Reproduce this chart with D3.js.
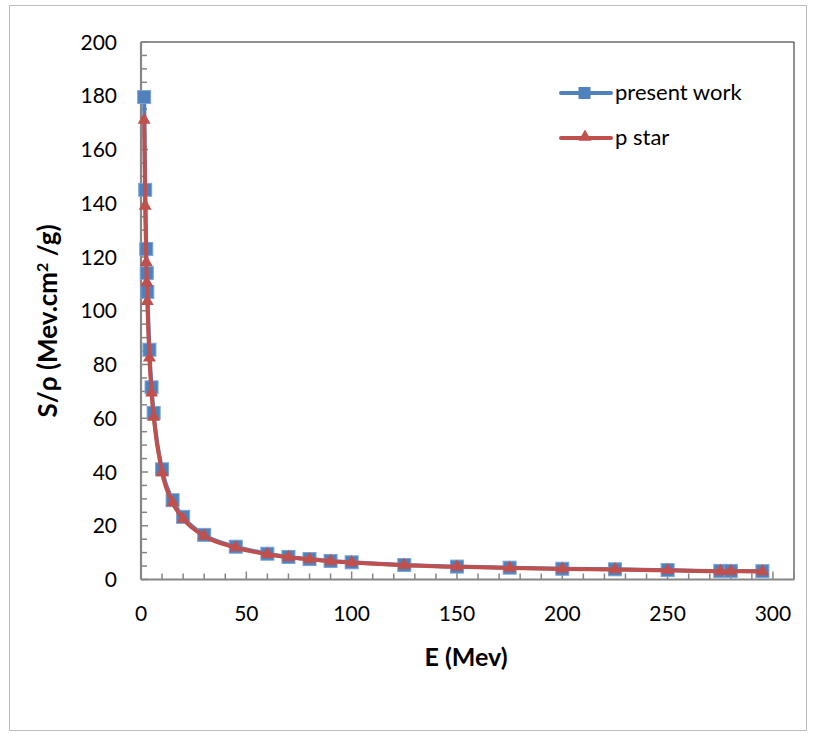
<!DOCTYPE html>
<html>
<head>
<meta charset="utf-8">
<script src="https://cdn.jsdelivr.net/npm/d3@7"></script>
<style>
  body { margin: 0; background: #fff; }
  svg { display: block; font-family: Lato, "Open Sans", sans-serif; }
</style>
</head>
<body>
<svg id="chart" width="817" height="733"></svg>
<script>
// data
let energy = [1.5, 2, 2.5, 2.75, 3, 4, 5, 6, 10, 15, 20, 30, 45, 60, 70, 80, 90, 100, 125, 150, 175, 200, 225, 250, 275, 280, 295]
let presentWork = [179.5, 145, 123, 114, 107, 85.5, 71.5, 62, 41, 29.5, 23.3, 16.6, 12.2, 9.6, 8.4, 7.6, 6.9, 6.4, 5.4, 4.8, 4.4, 4.0, 3.8, 3.5, 3.2, 3.2, 3.1]
let pStar = [171, 139, 118, 110.5, 103.5, 82.5, 69.5, 60.5, 39.8, 28.6, 22.6, 16.2, 11.9, 9.4, 8.3, 7.5, 6.8, 6.3, 5.3, 4.7, 4.3, 3.9, 3.7, 3.4, 3.1, 3.1, 3.0]
let xTicks = [0, 50, 100, 150, 200, 250, 300]
let yTicks = [0, 20, 40, 60, 80, 100, 120, 140, 160, 180, 200]
let seriesNames = ['present work', 'p star']

let svg = d3.select('#chart')
let pLeft = 141, pTop = 42, pRight = 794, pBottom = 579.5

// outer frame
svg.append('rect')
    .attr('x', 9.5).attr('y', 5.5)
    .attr('width', 797).attr('height', 725)
    .attr('fill', 'none').attr('stroke', '#bdbdbd').attr('stroke-width', 1)

let x = d3.scaleLinear().domain([0, 310]).range([pLeft, pRight])
let y = d3.scaleLinear().domain([0, 200]).range([pBottom, pTop])

// plot frame: top and right thin dark lines
svg.append('path')
    .attr('d', `M${pLeft},${pTop}H${pRight}V${pBottom}`)
    .attr('fill', 'none').attr('stroke', '#222').attr('stroke-width', 1)

// minor ticks (inside)
let xMinor = d3.range(0, 311, 10)
svg.append('g').selectAll('line')
    .data(xMinor)
    .enter().append('line')
    .attr('x1', d => x(d)).attr('x2', d => x(d))
    .attr('y1', pBottom).attr('y2', d => d % 50 === 0 ? pBottom - 8 : pBottom - 6)
    .attr('stroke', '#868686').attr('stroke-width', 1.5)

let yMinor = d3.range(0, 201, 5)
svg.append('g').selectAll('line')
    .data(yMinor)
    .enter().append('line')
    .attr('y1', d => y(d)).attr('y2', d => y(d))
    .attr('x1', pLeft).attr('x2', d => d % 20 === 0 ? pLeft + 7 : pLeft + 6)
    .attr('stroke', '#868686').attr('stroke-width', 1.5)

// axes lines
svg.append('line').attr('x1', pLeft).attr('x2', pRight).attr('y1', pBottom).attr('y2', pBottom)
    .attr('stroke', '#868686').attr('stroke-width', 2.2)
svg.append('line').attr('x1', pLeft).attr('x2', pLeft).attr('y1', pTop).attr('y2', pBottom)
    .attr('stroke', '#868686').attr('stroke-width', 2.2)

// tick labels
svg.append('g').selectAll('text')
    .data(xTicks)
    .enter().append('text')
    .attr('x', d => x(d)).attr('y', pBottom + 41)
    .attr('text-anchor', 'middle')
    .attr('font-size', 21).attr('fill', '#000')
    .text(d => d)

svg.append('g').selectAll('text')
    .data(yTicks)
    .enter().append('text')
    .attr('x', 117).attr('y', d => y(d) + 7.5)
    .attr('text-anchor', 'end')
    .attr('font-size', 21).attr('fill', '#000')
    .text(d => d)

// axis titles
svg.append('text')
    .attr('x', 466).attr('y', 666)
    .attr('text-anchor', 'middle')
    .attr('font-size', 25).attr('font-weight', 'bold')
    .text('E (Mev)')

let yTitle = svg.append('text')
    .attr('transform', 'translate(57,321) rotate(-90)')
    .attr('text-anchor', 'middle')
    .attr('font-size', 26).attr('font-weight', 'bold')
yTitle.append('tspan').text('S/ρ (Mev.cm')
yTitle.append('tspan').attr('font-size', 16).attr('dy', -9).text('2')
yTitle.append('tspan').attr('dy', 9).text(' /g)')

// lines
let line = d3.line()
    .x(d => x(d[0]))
    .y(d => y(d[1]))
    .curve(d3.curveMonotoneX)

let blueData = energy.map((e, i) => [e, presentWork[i]])
let redData = energy.map((e, i) => [e, pStar[i]])
let blue = '#4f81bd', red = '#c0504d'

svg.append('path').datum(blueData)
    .attr('d', line).attr('fill', 'none')
    .attr('stroke', blue).attr('stroke-width', 4).attr('stroke-linejoin', 'round')

svg.append('g').selectAll('rect')
    .data(blueData)
    .enter().append('rect')
    .attr('x', d => x(d[0]) - 6.5).attr('y', d => y(d[1]) - 6.5)
    .attr('width', 13).attr('height', 13)
    .attr('fill', blue).attr('stroke', '#7ea3d3').attr('stroke-width', 1)

svg.append('path').datum(redData)
    .attr('d', line).attr('fill', 'none')
    .attr('stroke', red).attr('stroke-width', 4).attr('stroke-linejoin', 'round')

let tri = d3.symbol().type(d3.symbolTriangle).size(72)
svg.append('g').selectAll('path')
    .data(redData)
    .enter().append('path')
    .attr('d', tri)
    .attr('transform', d => `translate(${x(d[0])},${y(d[1])})`)
    .attr('fill', red)

// legend
let legend = svg.append('g')
let legendY = [93, 138]
legend.append('line').attr('x1', 561).attr('x2', 611).attr('y1', legendY[0]).attr('y2', legendY[0])
    .attr('stroke', blue).attr('stroke-width', 4).attr('stroke-linecap', 'round')
legend.append('rect').attr('x', 578.5).attr('y', legendY[0] - 6).attr('width', 12).attr('height', 12)
    .attr('fill', blue)
legend.append('line').attr('x1', 561).attr('x2', 611).attr('y1', legendY[1]).attr('y2', legendY[1])
    .attr('stroke', red).attr('stroke-width', 4).attr('stroke-linecap', 'round')
legend.append('path').attr('d', tri).attr('transform', `translate(585,${legendY[1] - 1})`)
    .attr('fill', red)
legend.selectAll('text')
    .data(seriesNames)
    .enter().append('text')
    .attr('x', 615).attr('y', (d, i) => legendY[i] + 7)
    .attr('font-size', 22)
    .text(d => d)
</script>
</body>
</html>
